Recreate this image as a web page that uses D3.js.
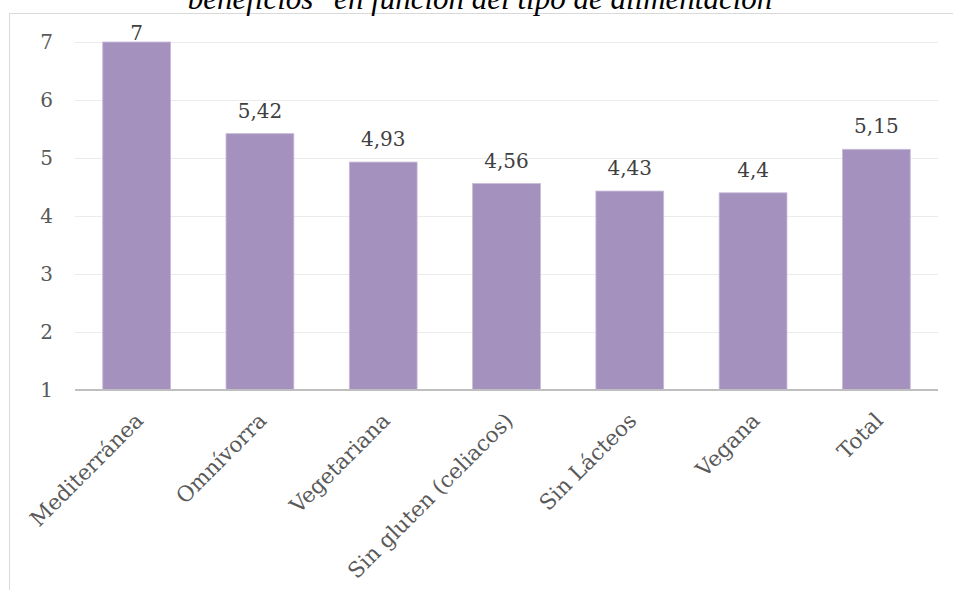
<!DOCTYPE html>
<html>
<head>
<meta charset="utf-8">
<script src="https://cdn.jsdelivr.net/npm/d3@7"></script>
<style>
  html, body { margin: 0; padding: 0; background: #fff; }
  svg { display: block; }
</style>
</head>
<body>
<svg id="chart" width="953" height="590"></svg>
<script>
const categories = ["Mediterránea", "Omnívorra", "Vegetariana", "Sin gluten (celiacos)", "Sin Lácteos", "Vegana", "Total"];
const values = [7, 5.42, 4.93, 4.56, 4.43, 4.4, 5.15];
const yTicks = [1, 2, 3, 4, 5, 6, 7];
const titleText = "beneficios\" en función del tipo de alimentación";

const svg = d3.select("#chart");
const W = 953, H = 590;
const plot = { left: 75, right: 938, top: 42, bottom: 390 };
const serif = "'DejaVu Serif', serif";

svg.append("rect").attr("width", W).attr("height", H).attr("fill", "#fff");

// outer chart frame (clipped at top and right)
svg.append("path")
  .attr("d", `M9.5,${H} V13.5 H${W}`)
  .attr("fill", "none").attr("stroke", "#d9d9d9").attr("stroke-width", 1);

// title (partially visible, cut by the top edge as in the reference)
svg.append("text")
  .attr("x", 480).attr("y", 9)
  .attr("text-anchor", "middle")
  .attr("font-family", "'Liberation Serif', 'Times New Roman', serif")
  .attr("font-style", "italic")
  .attr("font-size", 31)
  .attr("fill", "#000")
  .text(titleText);

const x = d3.scaleBand().domain(categories).range([plot.left, plot.right])
  .paddingInner(0.45).paddingOuter(0.225);
const y = d3.scaleLinear().domain([1, 7]).range([plot.bottom, plot.top]);

// gridlines
svg.append("g").selectAll("line").data(yTicks.filter(d => d > 1)).join("line")
  .attr("x1", plot.left).attr("x2", plot.right)
  .attr("y1", d => Math.round(y(d)) + 0.5).attr("y2", d => Math.round(y(d)) + 0.5)
  .attr("stroke", "#ebebeb").attr("stroke-width", 1);

// bars
svg.append("g").selectAll("rect").data(values).join("rect")
  .attr("x", (d, i) => x(categories[i]))
  .attr("width", x.bandwidth())
  .attr("y", d => y(d))
  .attr("height", d => y(1) - y(d))
  .attr("fill", "#a591be")
  .attr("stroke", "#c8bbda").attr("stroke-width", 0.8);

// baseline axis
svg.append("line")
  .attr("x1", plot.left).attr("x2", plot.right)
  .attr("y1", y(1)).attr("y2", y(1))
  .attr("stroke", "#bfbfbf").attr("stroke-width", 2);

// y axis labels
const yAxis = d3.axisLeft(y).tickValues(yTicks).tickSize(0).tickPadding(22).tickFormat(d3.format("d"));
const gy = svg.append("g").attr("transform", `translate(${plot.left},0)`).call(yAxis);
gy.select(".domain").remove();
gy.selectAll("text").attr("font-family", serif).attr("font-size", 20).attr("fill", "#595959");

// data labels
const fmt = v => String(v).replace(".", ",");
svg.append("g").selectAll("text").data(values).join("text")
  .attr("x", (d, i) => x(categories[i]) + x.bandwidth() / 2)
  .attr("y", d => Math.max(y(d) - 16, plot.top - 2))
  .attr("text-anchor", "middle")
  .attr("font-family", serif).attr("font-size", 20).attr("fill", "#404040")
  .text(fmt);

// category labels, rotated
svg.append("g").selectAll("text").data(categories).join("text")
  .attr("transform", d => `translate(${x(d) + x.bandwidth() / 2 + 8},${plot.bottom + 32}) rotate(-45)`)
  .attr("text-anchor", "end")
  .attr("font-family", serif).attr("font-size", 21.5).attr("fill", "#595959")
  .text(d => d);
</script>
</body>
</html>
